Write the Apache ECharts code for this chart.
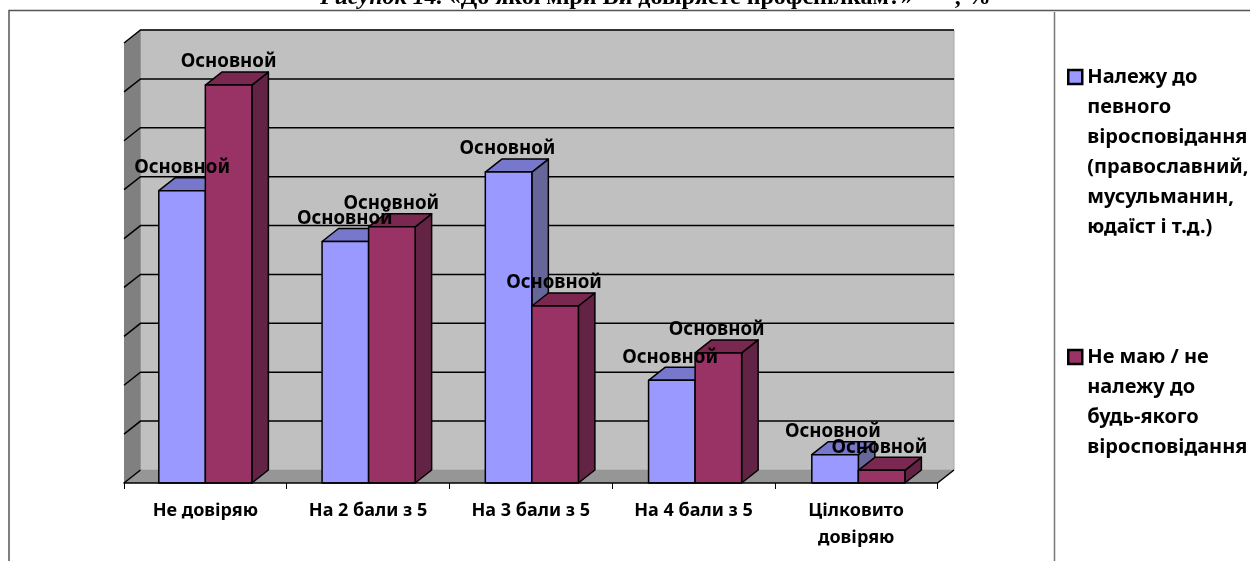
<!DOCTYPE html>
<html>
<head>
<meta charset="utf-8">
<title>Рисунок 14</title>
<script src="https://cdn.jsdelivr.net/npm/echarts@6/dist/echarts.min.js"></script>
<style>
  html, body { margin: 0; padding: 0; background: #fff; }
  #chart { width: 1250px; height: 561px; }
</style>
</head>
<body>
<div id="chart"></div>
<script>
const categories = ['Не довіряю', 'На 2 бали з 5', 'На 3 бали з 5', 'На 4 бали з 5', 'Цілковито\nдовіряю']
const belongValues = [29.9, 24.7, 31.8, 10.5, 2.9]
const noneValues = [40.7, 26.2, 18.1, 13.3, 1.3]
const yTicks = [5, 10, 15, 20, 25, 30, 35, 40, 45]
const belongName = 'Належу до\nпевного\nвіросповідання\n(православний,\nмусульманин,\nюдаїст і т.д.)'
const noneName = 'Не маю / не\nналежу до\nбудь-якого\nвіросповідання'
const labelText = 'Основной'

const FONT = '"Noto Sans", sans-serif'
const DX = 16.5   // зсув глибини
const DY = -13
const BAR_PART = 0.286
const BAR_DRIFT = 0.55   // стовпчики трохи розходяться відносно поділок

function wallItem(params) {
  const c = params.coordSys
  const l = c.x, r = c.x + c.width, t = c.y, b = c.y + c.height
  return {
    type: 'group',
    children: [
      { type: 'rect', shape: { x: l + DX, y: t + DY, width: c.width, height: c.height }, style: { fill: '#c0c0c0', stroke: '#a8a8a8', lineWidth: 1 } },
      { type: 'polygon', shape: { points: [[l, t], [l + DX, t + DY], [l + DX, b + DY], [l, b]] }, style: { fill: '#808080' } },
      { type: 'polygon', shape: { points: [[l, b], [l + DX, b + DY], [r + DX, b + DY], [r, b]] }, style: { fill: '#969696' } },
      { type: 'line', shape: { x1: l, y1: b, x2: l + DX, y2: b + DY }, style: { stroke: '#000', lineWidth: 1.5 } },
      { type: 'line', shape: { x1: r, y1: b, x2: r + DX, y2: b + DY }, style: { stroke: '#000', lineWidth: 1.5 } }
    ]
  }
}

function gridItem(params, api) {
  const c = params.coordSys
  const y = api.coord([0, api.value(1)])[1]
  return {
    type: 'polyline',
    shape: { points: [[c.x, y], [c.x + DX, y + DY], [c.x + DX + c.width, y + DY]] },
    style: { stroke: '#000', lineWidth: 1.5, fill: null }
  }
}

function barRender(slot, front, side, top) {
  return function (params, api) {
    const p = api.coord([api.value(0), api.value(1)])
    const base = api.coord([api.value(0), 0])
    const w = api.size([1, 0])[0] * BAR_PART
    const x = p[0] + slot * w + api.value(0) * BAR_DRIFT
    const line = { stroke: '#000', lineWidth: 1.5, lineJoin: 'round' }
    return {
      type: 'group',
      children: [
        { type: 'polygon', shape: { points: [[x + w, p[1]], [x + w + DX, p[1] + DY], [x + w + DX, base[1] + DY], [x + w, base[1]]] }, style: { fill: side, ...line } },
        { type: 'polygon', shape: { points: [[x, p[1]], [x + DX, p[1] + DY], [x + w + DX, p[1] + DY], [x + w, p[1]]] }, style: { fill: top, ...line } },
        { type: 'rect', shape: { x: x, y: p[1], width: w, height: base[1] - p[1] }, style: { fill: front, ...line } }
      ]
    }
  }
}

function labelRender(slot) {
  return function (params, api) {
    const p = api.coord([api.value(0), api.value(1)])
    const w = api.size([1, 0])[0] * BAR_PART
    return {
      type: 'text',
      style: {
        x: p[0] + slot * w + w / 2,
        y: p[1] - 23,
        text: labelText,
        fill: '#000',
        font: 'bold 18.7px ' + FONT,
        align: 'center',
        verticalAlign: 'middle'
      }
    }
  }
}

const toPairs = arr => arr.map((v, i) => [i, v])

const chart = echarts.init(document.getElementById('chart'), null, { renderer: 'canvas' })
chart.setOption({
  animation: false,
  backgroundColor: '#fff',
  title: {
    left: 320,
    top: -14,
    padding: 0,
    text: '{i|Рисунок 14. }{b|«До якої міри Ви довіряєте профспілкам?»}{b|       , %}',
    textStyle: {
      rich: {
        i: { fontFamily: '"Liberation Serif"', fontStyle: 'italic', fontSize: 24, color: '#000' },
        b: { fontFamily: '"Liberation Serif"', fontWeight: 'bold', fontSize: 24, color: '#000' }
      }
    }
  },
  graphic: [
    { type: 'polyline', shape: { points: [[9, 561], [9, 10.5], [1250, 10.5]] }, style: { stroke: '#555', lineWidth: 1.5, fill: null } },
    { type: 'line', shape: { x1: 1054.5, y1: 12, x2: 1054.5, y2: 561 }, style: { stroke: '#777', lineWidth: 1.5 } }
  ],
  legend: [
    {
      left: 1067, top: 62, orient: 'vertical', padding: 0, selectedMode: false,
      itemWidth: 14, itemHeight: 164, itemGap: 0,
      textStyle: { fontFamily: FONT, fontWeight: 'bold', fontSize: 20, lineHeight: 30, color: '#000' },
      data: [{ name: belongName, icon: 'path://M0 0H14V14H0ZM0 164L0 164', itemStyle: { color: '#9999ff', borderColor: '#000', borderWidth: 2.5 } }]
    },
    {
      left: 1067, top: 342, orient: 'vertical', padding: 0, selectedMode: false,
      itemWidth: 14, itemHeight: 104, itemGap: 0,
      textStyle: { fontFamily: FONT, fontWeight: 'bold', fontSize: 20, lineHeight: 30, color: '#000' },
      data: [{ name: noneName, icon: 'path://M0 0H14V14H0ZM0 104L0 104', itemStyle: { color: '#993366', borderColor: '#000', borderWidth: 2.5 } }]
    }
  ],
  grid: { left: 124, top: 43, width: 813.5, height: 440 },
  xAxis: {
    type: 'category',
    data: categories,
    z: 4,
    axisLine: { lineStyle: { color: '#000', width: 1.5 } },
    axisTick: { show: true, length: 6, lineStyle: { color: '#000', width: 1 } },
    axisLabel: { color: '#000', fontFamily: FONT, fontWeight: 'bold', fontSize: 18, lineHeight: 27, margin: 14, interval: 0 }
  },
  yAxis: {
    type: 'value',
    min: 0,
    max: 45,
    interval: 5,
    axisLine: { show: false },
    axisTick: { show: false },
    axisLabel: { show: false },
    splitLine: { show: false }
  },
  series: [
    { type: 'custom', name: 'wall', z: 1, silent: true, clip: false, data: [[0, 0]], renderItem: wallItem },
    { type: 'custom', name: 'gridlines', z: 2, silent: true, clip: false, data: yTicks.map(v => [0, v]), encode: { x: 0, y: 1 }, renderItem: gridItem },
    { type: 'custom', name: belongName, z: 3, clip: false, data: toPairs(belongValues), encode: { x: 0, y: 1 }, renderItem: barRender(-1, '#9999ff', '#666699', '#7777cc'), itemStyle: { color: '#9999ff' } },
    { type: 'custom', name: noneName, z: 3, clip: false, data: toPairs(noneValues), encode: { x: 0, y: 1 }, renderItem: barRender(0, '#993366', '#632344', '#7a2850'), itemStyle: { color: '#993366' } },
    { type: 'custom', name: 'labelsBelong', z: 5, silent: true, clip: false, data: toPairs(belongValues), encode: { x: 0, y: 1 }, renderItem: labelRender(-1) },
    { type: 'custom', name: 'labelsNone', z: 6, silent: true, clip: false, data: toPairs(noneValues), encode: { x: 0, y: 1 }, renderItem: labelRender(0) }
  ]
})
</script>
</body>
</html>
